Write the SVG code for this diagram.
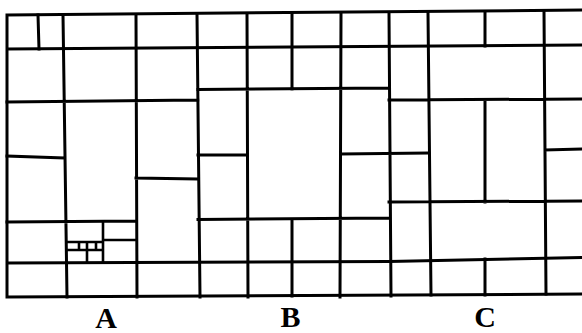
<svg xmlns="http://www.w3.org/2000/svg" width="582" height="333" viewBox="0 0 582 333">
<style>
.m{fill:none;stroke:#000;stroke-width:3;stroke-linecap:square;stroke-linejoin:miter}
.s{fill:none;stroke:#000;stroke-width:2.6;stroke-linecap:square}
.lbl{font-family:"Liberation Serif","Times New Roman",serif;font-weight:bold;font-size:30px;fill:#000;text-anchor:middle}
</style>
<rect width="582" height="333" fill="#fff"/>
<g id="frame">
<path class="m" d="M7,15 L582,10 M7,297 L582,294 M7,15 L7,297 M7,49 L582,45 M7,263 L389,261.5 L582,257.5"/>
</g>
<g id="region-A">
<path class="m" d="M38,15 L39,49 M63,15 L67,297 M136,15 L137,297 M197,14 L200,297 M7,102 L198,100 M7,156 L65,158 M136,178 L198,179 M7,222 L136,221"/>
<path class="s" d="M103,222 L103,262 M103,240 L136,240 M68,242 L103,242 M68,250 L103,250 M79,242 L79,250 M87,242 L87,262 M96,242 L96,250"/>
</g>
<g id="region-B">
<path class="m" d="M247,14 L248,297 M292,14 L292,89 M292,219 L292,296 M341,14 L340,297 M389,13 L391,296 M198,89.5 L389,88 M198,155 L247,155 M341,154 L429,153 M198,219.5 L389,218"/>
</g>
<g id="region-C">
<path class="m" d="M428,13 L431,295 M485,12 L485,46 M485,100 L485,202 M485,259 L485,295 M544,11 L546,294 M389,100 L582,99 M545,150 L582,149 M389,202 L582,201"/>
</g>
<g id="labels">
<text class="lbl" x="106" y="327.5">A</text>
<text class="lbl" x="290.5" y="327">B</text>
<text class="lbl" x="485" y="326.5">C</text>
</g>
</svg>
